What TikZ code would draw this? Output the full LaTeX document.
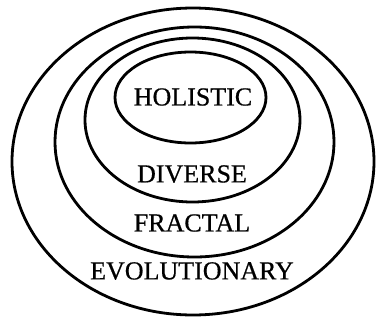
\documentclass[tikz,border=0pt]{standalone}
\usepackage{fontspec}
\setmainfont{Liberation Serif}
\newfontfamily\scanfont{Liberation Serif}[FakeBold=0.6]
\usetikzlibrary{shapes.geometric}
\tikzset{
  ring/.style={draw=black, line width=2.8pt, ellipse, inner sep=0pt, fill=none},
  label/.style={inner sep=0pt, font=\scanfont\fontsize{26}{26}\selectfont}
}
\begin{document}
\begin{tikzpicture}[x=1pt, y=-1pt]
\useasboundingbox (0,0) rectangle (376,322);
\node[ring, minimum width=362pt, minimum height=307pt] (outer) at (193,161.5) {};
\node[ring, minimum width=279pt, minimum height=230pt] (fractal) at (194.5,142) {};
\node[ring, minimum width=215pt, minimum height=164pt] (diverse) at (192.5,120) {};
\node[ring, minimum width=151pt, minimum height=91pt] (holistic) at (190.5,97.5) {};
\node[label] (tH) at (193,97) {HOLISTIC};
\node[label] (tD) at (192,174) {DIVERSE};
\node[label] (tF) at (192,223) {FRACTAL};
\node[label] (tE) at (192,271) {EVOLUTIONARY};
\end{tikzpicture}
\end{document}
